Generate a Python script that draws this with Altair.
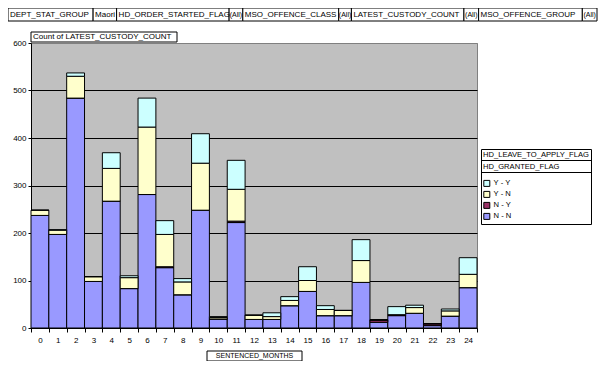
import altair as alt
import pandas as pd

# ---------------- data ----------------
months = [str(i) for i in range(25)]
n_n = [237, 197, 484, 98, 267, 83, 281, 127, 70, 248, 19, 222, 18, 18, 47, 77, 26, 26, 96, 12, 26, 31, 5, 25, 85]
n_y = [0, 0, 0, 0, 0, 0, 0, 2, 0, 0, 0, 3, 0, 0, 0, 0, 0, 0, 0, 5, 2, 0, 4, 0, 0]
y_n = [11, 9, 46, 10, 69, 23, 142, 68, 27, 99, 3, 67, 9, 6, 11, 23, 13, 11, 46, 0, 0, 12, 0, 11, 28]
y_y = [0, 1, 7, 0, 33, 4, 61, 29, 7, 62, 2, 61, 0, 8, 8, 29, 8, 0, 44, 0, 17, 5, 0, 4, 35]

stack_series = ["N - N", "N - Y", "Y - N", "Y - Y"]          # bottom -> top
legend_order = ["Y - Y", "Y - N", "N - Y", "N - N"]
legend_colors = ["#CCFFFF", "#FFFFCC", "#993366", "#9999FF"]
y_ticks = [0, 100, 200, 300, 400, 500, 600]

filter_labels = ["DEPT_STAT_GROUP", "Maori", "HD_ORDER_STARTED_FLAG", "(All)",
                 "MSO_OFFENCE_CLASS", "(All)", "LATEST_CUSTODY_COUNT", "(All)",
                 "MSO_OFFENCE_GROUP", "(All)"]
chart_title = "Count of LATEST_CUSTODY_COUNT"
x_title = "SENTENCED_MONTHS"
legend_title = ["HD_LEAVE_TO_APPLY_FLAG", "HD_GRANTED_FLAG"]

# ---------------- layout ----------------
FONT = "Liberation Sans"
W, H = 446, 285
PAD = {"left": 23, "top": 35, "right": 121, "bottom": 33}
LEG_X, LEG_Y = 450, 106

rows = []
for name, vals in zip(stack_series, [n_n, n_y, y_n, y_y]):
    for m, v in zip(months, vals):
        rows.append({"month": m, "series": name, "value": v,
                     "rank": stack_series.index(name)})
df = pd.DataFrame(rows)

# box layout (page px edges of the filter strip, squeezed into the drawable area)
ref_edges = [2, 89, 113, 228, 242, 340, 353, 468, 483, 589, 604]
scale_f = 589.0 / (ref_edges[-1] - ref_edges[0])
edges = [(e - ref_edges[0]) * scale_f - PAD["left"] for e in ref_edges]
box_rows = []
for i, lab in enumerate(filter_labels):
    centered = lab == "(All)"
    x0, x1 = edges[i], edges[i + 1]
    box_rows.append({"label": lab, "x0": x0, "x1": x1, "y0": -35, "y1": -22,
                     "tx": (x0 + x1) / 2 if centered else x0 + 2,
                     "ty": -28.5, "align": "center" if centered else "left"})
box_rows.append({"label": chart_title, "x0": 0, "x1": 146, "y0": -11, "y1": -1,
                 "tx": 2, "ty": -6, "align": "left"})
box_rows.append({"label": x_title, "x0": 176, "x1": 271, "y0": 308, "y1": 318,
                 "tx": 223.5, "ty": 313, "align": "center"})
boxes = pd.DataFrame(box_rows)

bars = alt.Chart(df).mark_bar(stroke="black", strokeWidth=1).encode(
    x=alt.X("month:O", sort=months,
            scale=alt.Scale(paddingInner=0, paddingOuter=0),
            axis=alt.Axis(title=None, labelAngle=0, tickBand="extent", tickSize=4,
                          tickColor="black", domainColor="black", labelPadding=4,
                          labelFont=FONT, labelFontSize=8, labelColor="black", grid=False)),
    y=alt.Y("value:Q", stack="zero",
            scale=alt.Scale(domain=[0, 600], nice=False),
            axis=alt.Axis(title=None, values=y_ticks, tickSize=3, tickColor="black",
                          domainColor="black", labelPadding=2, labelFont=FONT,
                          labelFontSize=8, labelColor="black", grid=True,
                          gridColor={"condition": {"test": "datum.value === 600", "value": "#808080"},
                                     "value": "black"},
                          gridOpacity=1)),
    color=alt.Color("series:N",
                    scale=alt.Scale(domain=legend_order, range=legend_colors),
                    legend=alt.Legend(orient="none", legendX=LEG_X, legendY=LEG_Y,
                                      title=legend_title, titleFont=FONT, titleFontSize=7.6,
                                      titleFontWeight="normal", titleColor="black",
                                      titleLineHeight=12, titlePadding=9,
                                      labelFont=FONT, labelFontSize=7.6, labelColor="black",
                                      symbolType="square", symbolSize=36,
                                      symbolStrokeColor="black", symbolStrokeWidth=1,
                                      symbolOpacity=1, labelOffset=3, rowPadding=0,
                                      padding=2, strokeColor="black")),
    order=alt.Order("rank:Q", sort="ascending"),
)

box_rect = alt.Chart(boxes).mark_rect(fill="white", stroke="black", strokeWidth=1).encode(
    x=alt.X("x0:Q", scale=None, axis=None), x2="x1:Q",
    y=alt.Y("y0:Q", scale=None, axis=None), y2="y1:Q",
)
box_text_left = alt.Chart(boxes[boxes["align"] == "left"]).mark_text(
    align="left", baseline="middle", font=FONT, fontSize=8, color="black").encode(
    x=alt.X("tx:Q", scale=None, axis=None), y=alt.Y("ty:Q", scale=None, axis=None),
    text="label:N")
box_text_center = alt.Chart(boxes[boxes["align"] == "center"]).mark_text(
    align="center", baseline="middle", font=FONT, fontSize=7, color="black").encode(
    x=alt.X("tx:Q", scale=None, axis=None), y=alt.Y("ty:Q", scale=None, axis=None),
    text="label:N")

sep = alt.Chart(pd.DataFrame({"yy": [117.5, 129.5]})).mark_rule(color="black", strokeWidth=1).encode(
    x=alt.value(LEG_X), x2=alt.value(LEG_X + 111),
    y=alt.Y("yy:Q", scale=None, axis=None))

chart = alt.layer(bars, box_rect, box_text_left, box_text_center, sep).resolve_scale(
    x="independent", y="independent"
).properties(
    width=W, height=H, padding=PAD, autosize=alt.AutoSizeParams(type="none"),
    background="white"
).configure_view(fill="#C0C0C0", stroke="#808080", strokeWidth=1)

chart.save("out.html", embed_options={"renderer": "svg", "actions": False})
